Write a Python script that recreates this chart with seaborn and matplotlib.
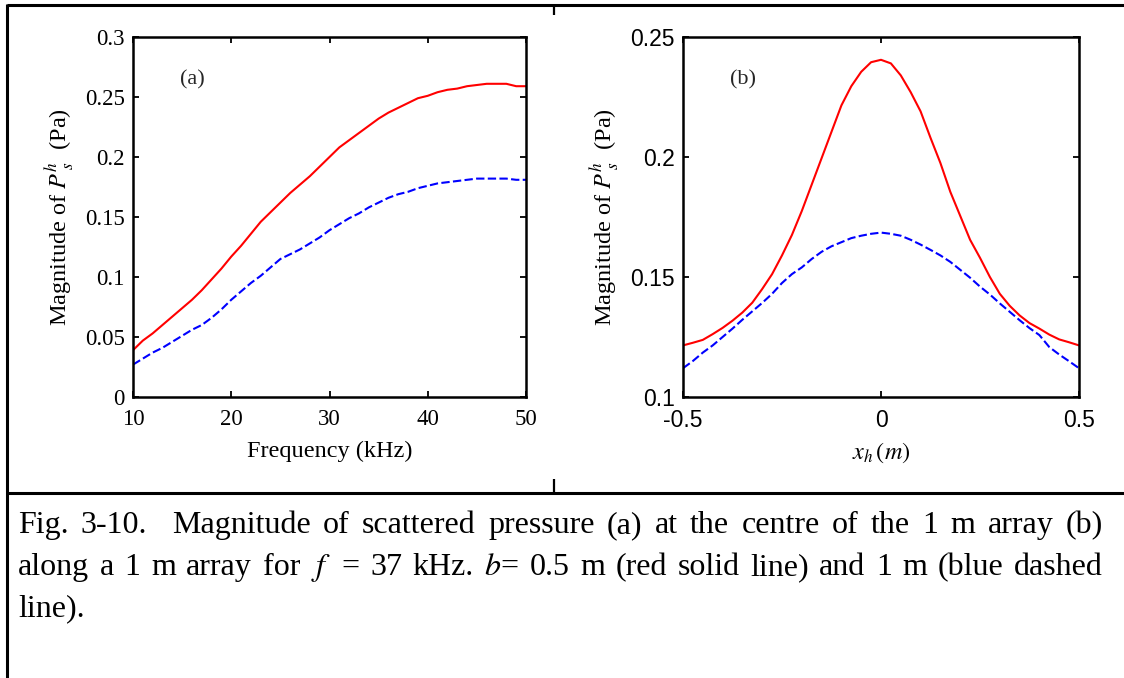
import numpy as np
import pandas as pd
import matplotlib
matplotlib.use("Agg")
import matplotlib.pyplot as plt
import seaborn as sns
from matplotlib.lines import Line2D

# ---------------- data ----------------
freq_khz = [10, 11, 12, 13, 14, 15, 16, 17, 18, 19, 20, 21, 22, 23, 24, 25, 26, 27, 28, 29, 30,
            31, 32, 33, 34, 35, 36, 37, 38, 39, 40, 41, 42, 43, 44, 45, 46, 47, 48, 49, 50]
red_a = [0.039, 0.047, 0.053, 0.060, 0.067, 0.074, 0.081, 0.089, 0.098, 0.107, 0.117,
         0.126, 0.136, 0.146, 0.154, 0.162, 0.170, 0.177, 0.184, 0.192, 0.200,
         0.208, 0.214, 0.220, 0.226, 0.232, 0.237, 0.241, 0.245, 0.249, 0.251,
         0.254, 0.256, 0.257, 0.259, 0.260, 0.261, 0.261, 0.261, 0.259, 0.259]
blue_a = [0.027, 0.032, 0.037, 0.041, 0.046, 0.051, 0.056, 0.060, 0.066, 0.073, 0.081,
          0.088, 0.095, 0.101, 0.108, 0.115, 0.119, 0.123, 0.128, 0.133, 0.139,
          0.144, 0.149, 0.153, 0.158, 0.162, 0.166, 0.169, 0.171, 0.174, 0.176,
          0.178, 0.179, 0.180, 0.181, 0.182, 0.182, 0.182, 0.182, 0.181, 0.181]

x_h = [-0.5, -0.475, -0.45, -0.425, -0.4, -0.375, -0.35, -0.325, -0.3, -0.275, -0.25,
       -0.225, -0.2, -0.175, -0.15, -0.125, -0.1, -0.075, -0.05, -0.025, 0.0,
       0.025, 0.05, 0.075, 0.1, 0.125, 0.15, 0.175, 0.2, 0.225, 0.25,
       0.275, 0.3, 0.325, 0.35, 0.375, 0.4, 0.425, 0.45, 0.475, 0.5]
red_b = [0.1215, 0.1226, 0.1238, 0.1262, 0.1288, 0.1318, 0.1352, 0.1393, 0.1450, 0.1512, 0.1590,
         0.1675, 0.1775, 0.1885, 0.1995, 0.2105, 0.2215, 0.2295, 0.2355, 0.2395, 0.2405,
         0.2390, 0.2340, 0.2270, 0.2190, 0.2080, 0.1975, 0.1855, 0.1755, 0.1655, 0.1580,
         0.1500, 0.1430, 0.1380, 0.1340, 0.1308, 0.1285, 0.1260, 0.1240, 0.1228, 0.1215]
blue_b = [0.1120, 0.1150, 0.1185, 0.1215, 0.1250, 0.1285, 0.1322, 0.1357, 0.1392, 0.1430, 0.1475,
          0.1512, 0.1540, 0.1575, 0.1605, 0.1628, 0.1645, 0.1662, 0.1672, 0.1680, 0.1685,
          0.1680, 0.1672, 0.1655, 0.1635, 0.1613, 0.1590, 0.1563, 0.1530, 0.1497, 0.1460,
          0.1427, 0.1390, 0.1355, 0.1320, 0.1287, 0.1258, 0.1208, 0.1177, 0.1149, 0.1120]

series_names = ["0.5 m", "1 m"]
xticks_a = [10, 20, 30, 40, 50]
yticks_a = [0, 0.05, 0.1, 0.15, 0.2, 0.25, 0.3]
yticklabels_a = ["0", "0.05", "0.1", "0.15", "0.2", "0.25", "0.3"]
xticks_b = [-0.5, 0, 0.5]
xticklabels_b = ["-0.5", "0", "0.5"]
yticks_b = [0.1, 0.15, 0.2, 0.25]
yticklabels_b = ["0.1", "0.15", "0.2", "0.25"]

caption_lines = [
    [("Fig.", 1), ("3-10.", 2), ("Magnitude", 1), ("of", 1), ("scattered", 1), ("pressure", 1),
     ("(a)", 1), ("at", 1), ("the", 1), ("centre", 1), ("of", 1), ("the", 1), ("1", 1), ("m", 1),
     ("array", 1), ("(b)", 0)],
    [("along", 1), ("a", 1), ("1", 1), ("m", 1), ("array", 1), ("for", 1), (r"$f$", 1), ("=", 1),
     ("37", 1), ("kHz.", 1), (r"$b$=", 1), ("0.5", 1), ("m", 1), ("(red", 1), ("solid", 1),
     ("line)", 1), ("and", 1), ("1", 1), ("m", 1), ("(blue", 1), ("dashed", 0)],
    [("line).", 0)],
]

# ---------------- style ----------------
sns.set_theme(style="ticks")
plt.rcParams.update({
    "font.family": ["Liberation Serif", "DejaVu Serif"],
    "mathtext.fontset": "stix",
    "axes.linewidth": 1.8,
    "axes.edgecolor": "black",
    "axes.labelcolor": "black",
    "xtick.direction": "in", "ytick.direction": "in",
    "xtick.top": True, "ytick.right": True,
    "xtick.major.size": 4.5, "ytick.major.size": 4.5,
    "xtick.major.width": 1.3, "ytick.major.width": 1.3,
    "xtick.color": "black", "ytick.color": "black",
    "figure.facecolor": "white", "axes.facecolor": "white",
})

W, H = 1124, 678
fig = plt.figure(figsize=(W / 100, H / 100), dpi=100)


def box(l, t, r, b):
    return [l / W, 1 - b / H, (r - l) / W, (b - t) / H]


ax1 = fig.add_axes(box(133, 37, 526, 397))
ax2 = fig.add_axes(box(683, 37, 1079, 397))

palette = {"0.5 m": "#ff0000", "1 m": "#0000ff"}
dashes = {"0.5 m": "", "1 m": (4, 1.6)}

df_a = pd.DataFrame({"f": freq_khz * 2, "mag": red_a + blue_a,
                     "b": [series_names[0]] * len(freq_khz) + [series_names[1]] * len(freq_khz)})
df_b = pd.DataFrame({"x": x_h * 2, "mag": red_b + blue_b,
                     "b": [series_names[0]] * len(x_h) + [series_names[1]] * len(x_h)})

for ax, df, xcol in [(ax1, df_a, "f"), (ax2, df_b, "x")]:
    sns.lineplot(data=df, x=xcol, y="mag", hue="b", style="b", hue_order=series_names,
                 style_order=series_names, palette=palette, dashes=dashes, estimator=None,
                 linewidth=1.5, legend=False, ax=ax)

# panel (a)
ax1.set_xlim(10, 50)
ax1.set_ylim(0, 0.3)
ax1.set_xticks(xticks_a)
ax1.set_xticklabels([str(v) for v in xticks_a])
ax1.set_yticks(yticks_a)
ax1.set_yticklabels(yticklabels_a)
ax1.set_xlabel("Frequency (kHz)", fontsize=17.5)
ax1.set_ylabel(r"Magnitude of $P^{h}_{\ s}$  (Pa)", fontsize=17.5)
ax1.xaxis.set_label_coords(0.5, -0.122)
ax1.yaxis.set_label_coords(-0.145, 0.5)
ax1.text(0.15, 0.88, "(a)", transform=ax1.transAxes, ha="center", va="center", fontsize=16)

# panel (b)
ax2.set_xlim(-0.5, 0.5)
ax2.set_ylim(0.1, 0.25)
ax2.set_xticks(xticks_b)
ax2.set_xticklabels(xticklabels_b)
ax2.set_yticks(yticks_b)
ax2.set_yticklabels(yticklabels_b)
ax2.set_xlabel(r"$x_h\,(m)$", fontsize=17.5)
ax2.set_ylabel(r"Magnitude of $P^{h}_{\ s}$  (Pa)", fontsize=17.5)
ax2.xaxis.set_label_coords(0.5, -0.12)
ax2.yaxis.set_label_coords(-0.157, 0.5)
ax2.text(0.152, 0.88, "(b)", transform=ax2.transAxes, ha="center", va="center", fontsize=16)

for ax in (ax1, ax2):
    ax.tick_params(axis="x", pad=8.5, labelsize=16.5)
    ax.tick_params(axis="y", pad=6, labelsize=16.5)
    for s in ax.spines.values():
        s.set_visible(True)
        s.set_linewidth(1.8)
        s.set_color("black")

for lab in ax2.get_xticklabels() + ax2.get_yticklabels():
    lab.set_fontfamily(["Liberation Sans", "DejaVu Sans"])

# ---------------- frame decorations ----------------
def fline(x0, y0, x1, y1, lw=2.2):
    fig.add_artist(Line2D([x0 / W, x1 / W], [1 - y0 / H, 1 - y1 / H],
                          transform=fig.transFigure, color="black", lw=lw,
                          solid_capstyle="butt"))


fline(7, 5, 1124, 5)
fline(7, 4, 7, 678)
fline(7, 493, 1124, 493)
fline(554, 5, 554, 15, lw=1.6)
fline(554, 479, 554, 493, lw=1.6)

# ---------------- caption (justified) ----------------
cap_size = 23
x_left, x_right = 18, 1103
baselines = [533, 575, 616]
renderer = fig.canvas.get_renderer()
for li, (tokens, yb) in enumerate(zip(caption_lines, baselines)):
    texts = []
    for tok, sp in tokens:
        t = fig.text(0, 1 - yb / H, tok, fontsize=cap_size, ha="left", va="baseline", color="black")
        texts.append((t, sp))
    widths = [t.get_window_extent(renderer).width for t, _ in texts]
    nsp = sum(sp for _, sp in texts)
    justify = li < len(caption_lines) - 1
    if justify and nsp > 0:
        gap = (x_right - x_left - sum(widths)) / nsp
    else:
        gap = cap_size * 0.25 * 100 / 72
    x = x_left
    for (t, sp), w in zip(texts, widths):
        t.set_x(x / W)
        x += w + sp * gap

fig.savefig("out.png", dpi=100)
